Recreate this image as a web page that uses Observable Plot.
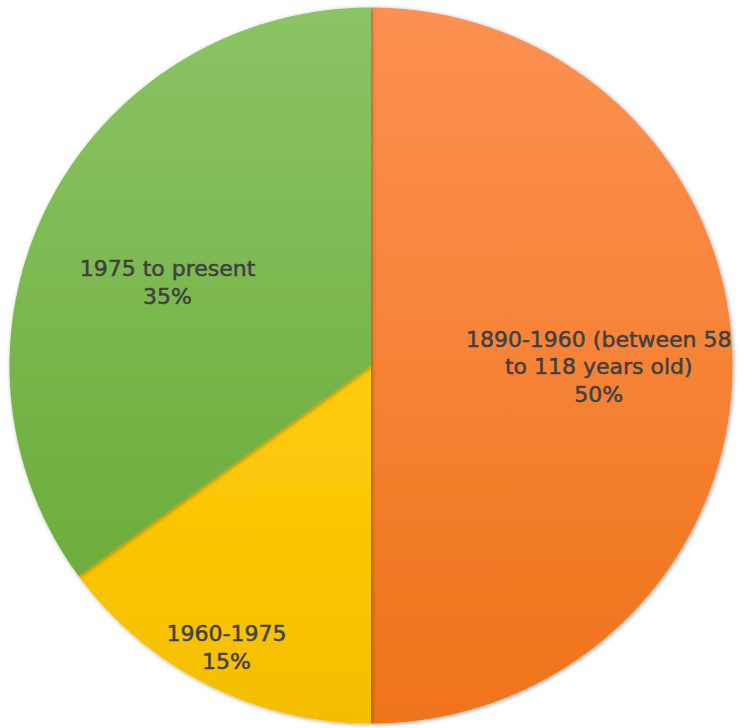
<!DOCTYPE html>
<html>
<head>
<meta charset="utf-8">
<script src="https://cdn.jsdelivr.net/npm/d3@7"></script>
<script src="https://cdn.jsdelivr.net/npm/@observablehq/plot@0.6"></script>
<style>
  html, body { margin: 0; padding: 0; background: #fff; }
  #chart svg { display: block; }
</style>
</head>
<body>
<div id="chart"></div>
<script>
// Data (clockwise from 12 o'clock)
const categories = ["1890-1960 (between 58\nto 118 years old)", "1960-1975", "1975 to present"];
const shares = [50, 15, 35];

// Styling (kept separate from data)
const gradients = [
  {id: "gOrange", top: "#fd9152", bottom: "#ef7419"},
  {id: "gYellow", top: "#ffcc0a", bottom: "#f4be00"},
  {id: "gGreen",  top: "#8bc464", bottom: "#6cad3b"}
];
// label placement: fraction of radius along slice and small angular shift (radians)
const labelPlace = [
  {frac: 0.63, shift: 0},
  {frac: 0.88, shift: 0},
  {frac: 0.61, shift: -0.075}
];

const pie = d3.pie().sort(null).value(d => d)(shares);

// build slice polygons in unit coordinates (y up)
const slicePts = pie.map((a, i) => {
  const pts = [{x: 0, y: 0, i}];
  const n = Math.max(8, Math.ceil((a.endAngle - a.startAngle) / 0.005));
  for (let k = 0; k <= n; k++) {
    const t = a.startAngle + (a.endAngle - a.startAngle) * k / n;
    pts.push({x: Math.sin(t), y: Math.cos(t), i});
  }
  pts.push({x: 0, y: 0, i});
  return pts;
});

const labels = pie.map((a, i) => {
  const m = (a.startAngle + a.endAngle) / 2 + labelPlace[i].shift;
  const r = labelPlace[i].frac;
  return {x: Math.sin(m) * r, y: Math.cos(m) * r, text: categories[i] + "\n" + shares[i] + "%"};
});

const W = 743, H = 728;
const chart = Plot.plot({
  width: W,
  height: H,
  marginLeft: 9, marginRight: 11, marginTop: 7, marginBottom: 5,
  x: {domain: [-1, 1], axis: null},
  y: {domain: [-1, 1], axis: null},
  style: {background: "transparent", fontFamily: "DejaVu Sans"},
  marks: [
    ...slicePts.map((pts, i) => Plot.line(pts, {
      x: "x", y: "y", fill: `url(#${gradients[i].id})`, stroke: "none", curve: "linear"
    })),
    Plot.text(labels, {
      x: "x", y: "y", text: "text",
      fontSize: 22, fill: "#404040", lineHeight: 1.26,
      textAnchor: "middle", lineAnchor: "middle",
      stroke: "#404040", strokeWidth: 0.5
    })
  ]
});

// gradient defs
const defs = d3.select(chart).insert("defs", ":first-child");
gradients.forEach(g => {
  const lg = defs.append("linearGradient").attr("id", g.id)
    .attr("x1", 0).attr("y1", 0).attr("x2", 0).attr("y2", 1);
  lg.append("stop").attr("offset", "0%").attr("stop-color", g.top);
  lg.append("stop").attr("offset", "100%").attr("stop-color", g.bottom);
});
const filt = defs.append("filter").attr("id", "shadow")
  .attr("x", "-5%").attr("y", "-5%").attr("width", "110%").attr("height", "110%");
filt.append("feDropShadow").attr("dx", 1).attr("dy", 1).attr("stdDeviation", 2)
  .attr("flood-color", "#000").attr("flood-opacity", 0.35);
d3.select(chart).selectAll('g[aria-label="line"]').attr("filter", "url(#shadow)");

document.getElementById("chart").appendChild(chart);
</script>
</body>
</html>
